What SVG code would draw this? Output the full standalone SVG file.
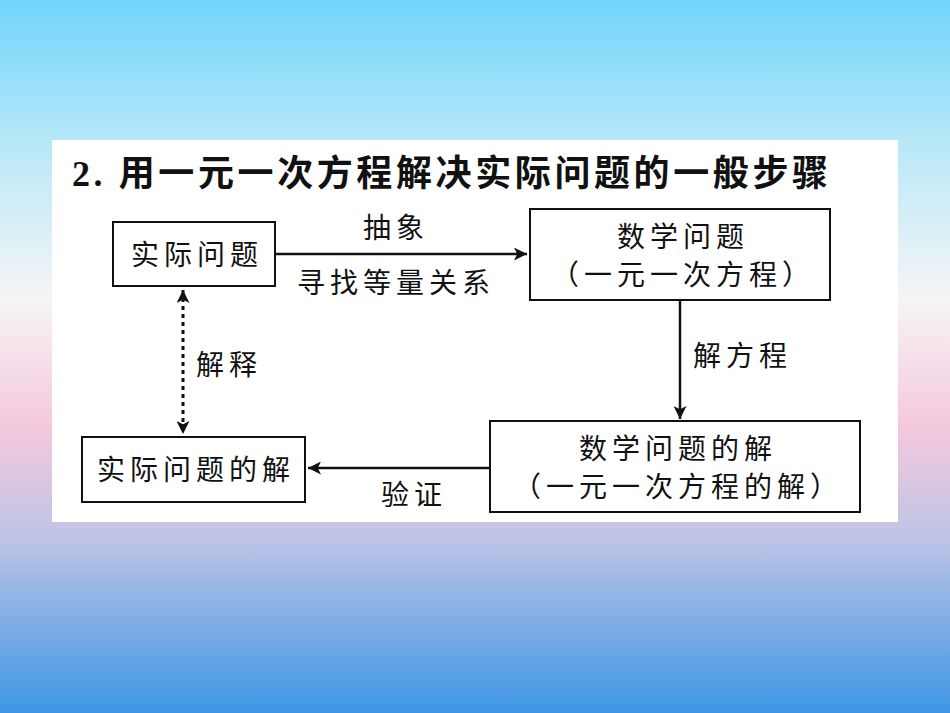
<svg xmlns="http://www.w3.org/2000/svg" width="950" height="713" viewBox="0 0 950 713">
<defs>
<linearGradient id="bg" x1="0" y1="0" x2="0" y2="1">
<stop offset="0" stop-color="#70d4fa"/>
<stop offset="0.2" stop-color="#b8e8f8"/>
<stop offset="0.42" stop-color="#f6f4f6"/>
<stop offset="0.6" stop-color="#f4c8dc"/>
<stop offset="0.75" stop-color="#c0c4e6"/>
<stop offset="1" stop-color="#3e96e4"/>
</linearGradient>
<marker id="ah" viewBox="0 0 10 10" refX="10" refY="5" markerWidth="26" markerHeight="13" markerUnits="userSpaceOnUse" orient="auto-start-reverse">
<path d="M0,0 L10,5 L0,10 L2.5,5 Z" fill="#111"/>
</marker>
<style>
.box{fill:#fff;stroke:#111;stroke-width:2}
.t{font-family:"Noto Sans CJK SC","Liberation Serif",serif;font-size:28px;fill:#111;letter-spacing:5px}
.ln{stroke:#111;stroke-width:2.5;fill:none}
</style>
</defs>
<rect width="950" height="713" fill="url(#bg)"/>
<rect x="52" y="140" width="846" height="382" fill="#fff"/>
<text x="72" y="186" font-family="'Liberation Serif','Noto Sans CJK SC',serif" font-size="36" font-weight="bold" fill="#111" textLength="756" lengthAdjust="spacing">2. 用一元一次方程解决实际问题的一般步骤</text>
<g id="n1"><rect class="box" x="113" y="222" width="162" height="64"/><text class="t" x="197" y="265" text-anchor="middle">实际问题</text></g>
<g id="n2"><rect class="box" x="530" y="209" width="300" height="91"/><text class="t" x="683" y="247" text-anchor="middle">数学问题</text><text class="t" x="683" y="285" text-anchor="middle">（一元一次方程）</text></g>
<g id="n3"><rect class="box" x="490" y="421" width="370" height="91"/><text class="t" x="678" y="459" text-anchor="middle">数学问题的解</text><text class="t" x="678" y="497" text-anchor="middle">（一元一次方程的解）</text></g>
<g id="n4"><rect class="box" x="82" y="437" width="223" height="65"/><text class="t" x="196" y="480" text-anchor="middle">实际问题的解</text></g>
<g id="edges">
<line class="ln" x1="275" y1="254" x2="527" y2="254" marker-end="url(#ah)"/>
<text class="t" x="396" y="238" text-anchor="middle">抽象</text>
<text class="t" x="396" y="293" text-anchor="middle">寻找等量关系</text>
<line class="ln" x1="680" y1="300" x2="680" y2="419" marker-end="url(#ah)"/>
<text class="t" x="693" y="366">解方程</text>
<line class="ln" x1="490" y1="468" x2="308" y2="468" marker-end="url(#ah)"/>
<text class="t" x="414" y="505" text-anchor="middle">验证</text>
<line x1="183" y1="290" x2="183" y2="434" stroke="#111" stroke-width="3" stroke-dasharray="4,4" marker-start="url(#ah)" marker-end="url(#ah)"/>
<text class="t" x="196" y="375">解释</text>
</g>
</svg>
